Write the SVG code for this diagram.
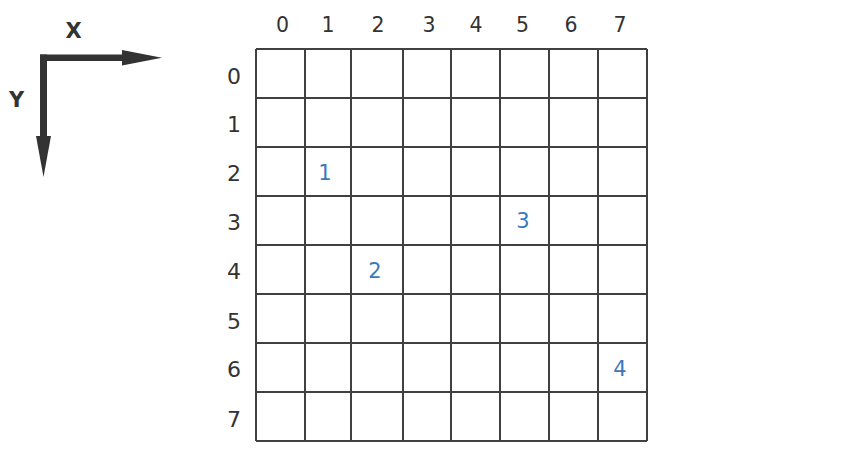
<svg xmlns="http://www.w3.org/2000/svg" width="849" height="476" viewBox="0 0 849 476">
<style>
.grid{stroke:#404040;stroke-width:2;fill:none}
.col{font-family:"DejaVu Sans",Verdana,sans-serif;font-size:20.5px;fill:#333;text-anchor:middle}
.row{font-family:"DejaVu Sans",Verdana,sans-serif;font-size:22px;fill:#333;text-anchor:middle}
.pt{font-family:"DejaVu Sans",Verdana,sans-serif;font-size:21px;fill:#3b78bb;text-anchor:middle}
.ax{font-family:"DejaVu Sans",Verdana,sans-serif;font-size:21px;font-weight:bold;fill:#333;text-anchor:middle}
.arr{fill:#333}
</style>
<rect width="849" height="476" fill="#fff"/>
<g id="axes">
<rect class="arr" x="40" y="54.5" width="85" height="6.5"/>
<polygon class="arr" points="122,50 162,57.7 122,65.5"/>
<rect class="arr" x="40" y="54.5" width="7" height="84"/>
<polygon class="arr" points="36,136 43.5,177 51,136"/>
<text class="ax" x="73.5" y="37.5">X</text>
<text class="ax" x="16.5" y="107">Y</text>
</g>
<g id="grid">
<path class="grid" d="M256,49V441M305,49V441M351,49V441M403,49V441M451,49V441M500,49V441M549,49V441M598,49V441M647,49V441M256,49H647M256,98H647M256,147H647M256,196H647M256,245H647M256,294H647M256,343H647M256,392H647M256,441H647"/>
</g>
<g id="col-labels">
<text class="col" x="282.5" y="31.5">0</text>
<text class="col" x="328" y="31.5">1</text>
<text class="col" x="378" y="31.5">2</text>
<text class="col" x="429" y="31.5">3</text>
<text class="col" x="476" y="31.5">4</text>
<text class="col" x="522.5" y="31.5">5</text>
<text class="col" x="571" y="31.5">6</text>
<text class="col" x="620" y="31.5">7</text>
</g>
<g id="row-labels">
<text class="row" x="234" y="84">0</text>
<text class="row" x="234" y="132">1</text>
<text class="row" x="234" y="181">2</text>
<text class="row" x="234" y="230">3</text>
<text class="row" x="234" y="279">4</text>
<text class="row" x="234" y="329">5</text>
<text class="row" x="234" y="377">6</text>
<text class="row" x="234" y="427">7</text>
</g>
<g id="points">
<text class="pt" x="325" y="180">1</text>
<text class="pt" x="375" y="278">2</text>
<text class="pt" x="523" y="228">3</text>
<text class="pt" x="620" y="376">4</text>
</g>
</svg>
